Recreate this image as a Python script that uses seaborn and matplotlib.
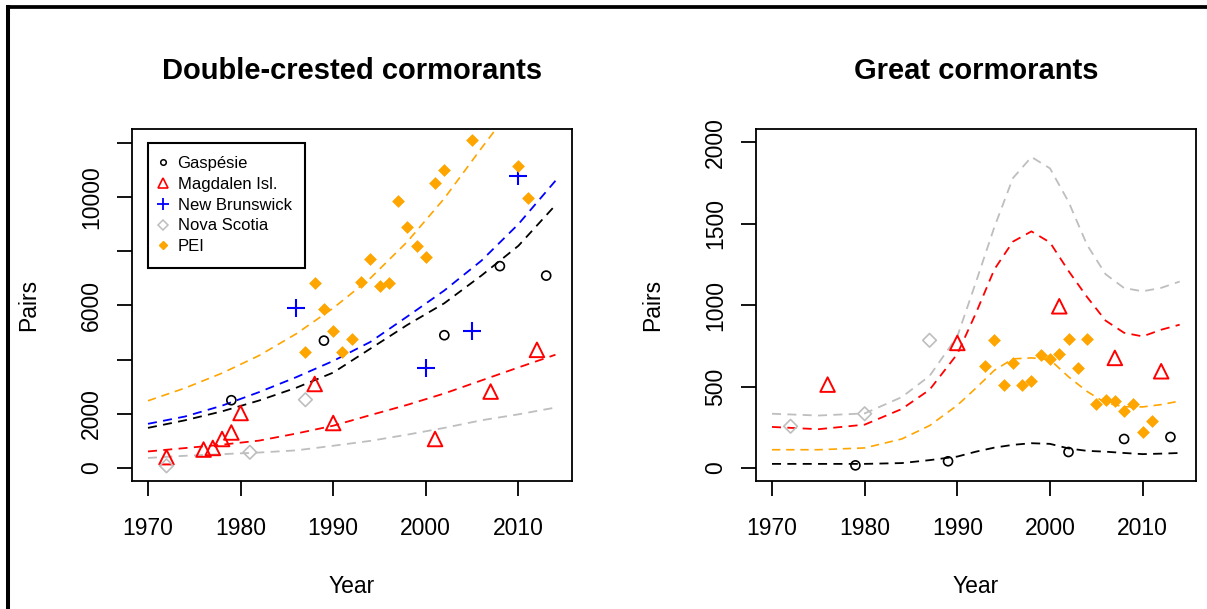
import matplotlib
matplotlib.use("Agg")
import matplotlib.pyplot as plt
from matplotlib import font_manager
from matplotlib.lines import Line2D
import seaborn as sns

# ---------------- Double-crested cormorants: colony counts ----------------
dcco_gaspesie_year = [1979, 1989, 2002, 2008, 2013]
dcco_gaspesie_pairs = [2500, 4700, 4900, 7450, 7100]
dcco_magdalen_year = [1972, 1976, 1977, 1978, 1979, 1980, 1988, 1990, 2001, 2007, 2012]
dcco_magdalen_pairs = [400, 680, 740, 1070, 1310, 2030, 3100, 1660, 1070, 2820, 4360]
dcco_nb_year = [1986, 2000, 2005, 2010]
dcco_nb_pairs = [5900, 3690, 5070, 10790]
dcco_ns_year = [1972, 1981, 1987]
dcco_ns_pairs = [80, 580, 2520]
dcco_pei_year = [1987, 1988, 1989, 1990, 1991, 1992, 1993, 1994, 1995, 1996,
                 1997, 1998, 1999, 2000, 2001, 2002, 2005, 2010, 2011]
dcco_pei_pairs = [4280, 6820, 5860, 5040, 4280, 4770, 6880, 7720, 6700, 6820,
                  9850, 8880, 8190, 7800, 10530, 10990, 12100, 11150, 9980]

# fitted trends (dashed)
dcco_fit_year = [1970, 1974, 1978, 1982, 1986, 1990, 1994, 1998, 2002, 2006, 2010, 2014]
dcco_fit_gaspesie = [1480, 1760, 2090, 2490, 2960, 3520, 4400, 5280, 6080, 7100, 8200, 9700]
dcco_fit_nb = [1630, 1900, 2300, 2800, 3350, 3950, 4650, 5590, 6550, 7650, 9000, 10600]
dcco_fit_magdalen = [610, 735, 860, 1010, 1270, 1560, 1950, 2330, 2750, 3230, 3710, 4180]
dcco_fit_ns = [370, 450, 510, 570, 650, 820, 1000, 1230, 1480, 1760, 1980, 2230]
dcco_fit_pei_year = [1970, 1974, 1978, 1982, 1986, 1990, 1994, 1998, 2002, 2006, 2008]
dcco_fit_pei = [2480, 2950, 3500, 4150, 4950, 5900, 7000, 8350, 9950, 11800, 12700]

# ---------------- Great cormorants: colony counts ----------------
gc_gaspesie_year = [1979, 1989, 2002, 2008, 2013]
gc_gaspesie_pairs = [16, 41, 98, 178, 190]
gc_magdalen_year = [1976, 1990, 2001, 2007, 2012]
gc_magdalen_pairs = [512, 768, 993, 676, 594]
gc_ns_year = [1972, 1980, 1987]
gc_ns_pairs = [256, 333, 784]
gc_pei_year = [1993, 1994, 1995, 1996, 1997, 1998, 1999, 2000, 2001, 2002,
               2003, 2004, 2005, 2006, 2007, 2008, 2009, 2010, 2011]
gc_pei_pairs = [624, 784, 508, 645, 508, 532, 692, 670, 702, 794,
                614, 794, 395, 420, 409, 348, 395, 221, 291]

gc_fit_year = [1970, 1975, 1980, 1984, 1987, 1990, 1992, 1994, 1996, 1998,
               2000, 2002, 2004, 2006, 2008, 2010, 2012, 2014]
gc_fit_ns = [333, 322, 335, 435, 565, 808, 1140, 1480, 1780, 1910,
             1840, 1635, 1370, 1190, 1105, 1085, 1106, 1145]
gc_fit_magdalen = [252, 238, 266, 362, 480, 700, 950, 1220, 1390, 1453,
                   1385, 1210, 1050, 905, 830, 808, 849, 880]
gc_fit_pei = [112, 112, 123, 178, 260, 385, 490, 600, 670, 676,
              665, 560, 470, 400, 376, 375, 389, 411]
gc_fit_gaspesie = [25, 25, 25, 30, 48, 70, 100, 125, 142, 152,
                   148, 120, 105, 100, 92, 85, 88, 92]

region_names = ["Gaspésie", "Magdalen Isl.", "New Brunswick", "Nova Scotia", "PEI"]
x_ticks = [1970, 1980, 1990, 2000, 2010]
dcco_y_ticks = [0, 2000, 4000, 6000, 8000, 10000, 12000]
dcco_y_labels = ["0", "2000", "", "6000", "", "10000", ""]
gc_y_ticks = [0, 500, 1000, 1500, 2000]
gc_y_labels = ["0", "500", "1000", "1500", "2000"]

BLACK, RED, BLUE, GRAY, ORANGE = "black", "#FF0000", "#0000FF", "#BEBEBE", "#FFA500"

sns.set_style("white")
plt.rcParams["font.family"] = ["Liberation Sans", "DejaVu Sans"]
plt.rcParams["text.color"] = "black"
plt.rcParams["axes.labelcolor"] = "black"
plt.rcParams["axes.edgecolor"] = "black"
plt.rcParams["axes.linewidth"] = 1.3

installed = {f.name for f in font_manager.fontManager.ttflist}
if "Liberation Sans Narrow" in installed:
    axis_font, axis_size = "Liberation Sans Narrow", 19
elif "DejaVu Sans Condensed" in installed:
    axis_font, axis_size = "DejaVu Sans Condensed", 15
else:
    axis_font, axis_size = "Liberation Sans", 16.5

fig = plt.figure(figsize=(12.07, 6.09), dpi=100)
ax1 = fig.add_axes([0.1091, 0.2102, 0.3646, 0.5775])
ax2 = fig.add_axes([0.6261, 0.2102, 0.3648, 0.5775])

dash = (0, (5, 3.5))


def trend(ax, x, y, color, lw=1.3):
    sns.lineplot(x=x, y=y, ax=ax, color=color, linewidth=lw, linestyle=dash,
                 estimator=None, sort=False)


def open_pts(ax, x, y, marker, color, size, lw=1.2):
    sns.scatterplot(x=x, y=y, ax=ax, marker=marker, s=size, color=color,
                    facecolor="none", edgecolor=color, linewidth=lw, zorder=3)


def plus_pts(ax, x, y, color, size):
    sns.scatterplot(x=x, y=y, ax=ax, marker="+", s=size, color=color,
                    linewidth=1.5, zorder=3)


def filled_pts(ax, x, y, color, size):
    sns.scatterplot(x=x, y=y, ax=ax, marker="D", s=size, color=color,
                    edgecolor=color, linewidth=0.5, zorder=3)


# ---- left panel ----
trend(ax1, dcco_fit_year, dcco_fit_gaspesie, BLACK)
trend(ax1, dcco_fit_year, dcco_fit_nb, BLUE)
trend(ax1, dcco_fit_year, dcco_fit_magdalen, RED)
trend(ax1, dcco_fit_year, dcco_fit_ns, GRAY)
trend(ax1, dcco_fit_pei_year, dcco_fit_pei, ORANGE, lw=1.2)
open_pts(ax1, dcco_gaspesie_year, dcco_gaspesie_pairs, "o", BLACK, 42)
open_pts(ax1, dcco_magdalen_year, dcco_magdalen_pairs, "^", RED, 110, lw=1.4)
plus_pts(ax1, dcco_nb_year, dcco_nb_pairs, BLUE, 169)
open_pts(ax1, dcco_ns_year, dcco_ns_pairs, "D", GRAY, 48)
filled_pts(ax1, dcco_pei_year, dcco_pei_pairs, ORANGE, 36)

# ---- right panel ----
trend(ax2, gc_fit_year, gc_fit_ns, GRAY)
trend(ax2, gc_fit_year, gc_fit_magdalen, RED)
trend(ax2, gc_fit_year, gc_fit_pei, ORANGE, lw=1.2)
trend(ax2, gc_fit_year, gc_fit_gaspesie, BLACK)
open_pts(ax2, gc_gaspesie_year, gc_gaspesie_pairs, "o", BLACK, 42)
open_pts(ax2, gc_magdalen_year, gc_magdalen_pairs, "^", RED, 110, lw=1.4)
open_pts(ax2, gc_ns_year, gc_ns_pairs, "D", GRAY, 48)
filled_pts(ax2, gc_pei_year, gc_pei_pairs, ORANGE, 36)

ax1.set_ylim(-480, 12500)
ax2.set_ylim(-80, 2080)

titles = ["Double-crested cormorants", "Great cormorants"]
for ax, title, yt, yl in ((ax1, titles[0], dcco_y_ticks, dcco_y_labels),
                          (ax2, titles[1], gc_y_ticks, gc_y_labels)):
    ax.set_xlim(1968.24, 2015.76)
    ax.set_xticks(x_ticks, [str(v) for v in x_ticks],
                  fontfamily=axis_font, fontsize=axis_size)
    ax.set_yticks(yt, yl, rotation=90, va="center",
                  fontfamily=axis_font, fontsize=axis_size)
    ax.tick_params(axis="x", direction="out", length=11, width=1.3,
                   pad=15, colors="black", bottom=True)
    ax.tick_params(axis="y", direction="out", length=11, width=1.3,
                   pad=9.5, colors="black", left=True)
    for sp in ax.spines.values():
        sp.set_visible(True)
        sp.set_color("black")
        sp.set_linewidth(1.3)
    ax.set_xlabel("Year", fontfamily=axis_font, fontsize=axis_size, va="center")
    ax.set_ylabel("Pairs", fontfamily=axis_font, fontsize=axis_size, va="center")
    ax.xaxis.set_label_coords(0.5, -0.301)
    ax.yaxis.set_label_coords(-0.234, 0.5)
    ax.set_title(title, fontsize=21, fontweight="bold", color="black",
                 y=1.166, pad=0, va="center")
    ax.grid(False)

handles = [
    Line2D([], [], ls="none", marker="o", mfc="none", mec=BLACK, ms=4, mew=1.1),
    Line2D([], [], ls="none", marker="^", mfc="none", mec=RED, ms=7, mew=1.2),
    Line2D([], [], ls="none", marker="+", color=BLUE, ms=9, mew=1.3),
    Line2D([], [], ls="none", marker="D", mfc="none", mec=GRAY, ms=5, mew=1.1),
    Line2D([], [], ls="none", marker="D", mfc=ORANGE, mec=ORANGE, ms=3.8),
]
leg = ax1.legend(handles, region_names, loc="upper left",
                 bbox_to_anchor=(0.0364, 0.962), borderaxespad=0,
                 fontsize=12, frameon=True, fancybox=False, framealpha=1,
                 edgecolor="black", borderpad=0.8, handlelength=0.25,
                 handletextpad=0.74, labelspacing=0.35)
leg.get_frame().set_linewidth(1.5)
for txt in leg.get_texts():
    txt.set_color("black")

# outer frame (top and left edges)
fig.add_artist(Line2D([0.0066, 1.0], [0.9893, 0.9893], color="black",
                      linewidth=2.7, solid_capstyle="projecting"))
fig.add_artist(Line2D([0.0066, 0.0066], [0.0, 0.9893], color="black",
                      linewidth=2.9, solid_capstyle="projecting"))

fig.savefig("out.png", dpi=100)
